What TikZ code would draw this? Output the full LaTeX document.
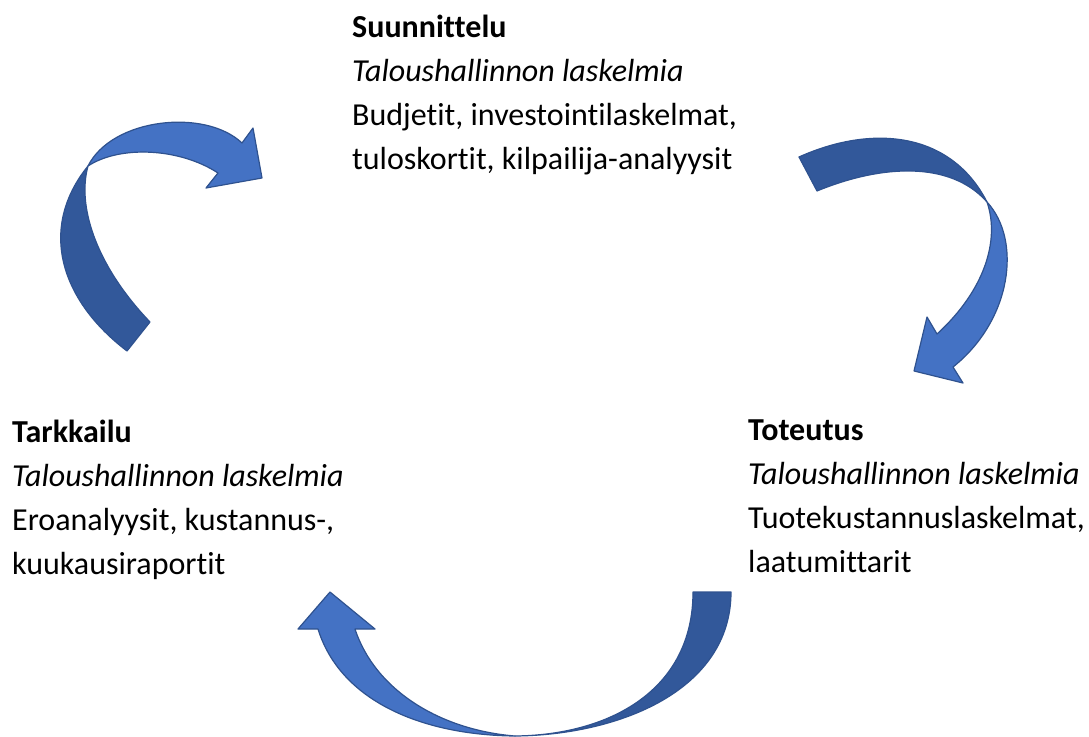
\documentclass[tikz,border=0pt]{standalone}
\usepackage{fontspec}
\setmainfont{Carlito}[Ligatures=NoCommon]
\usepackage{tikz}

\definecolor{facelight}{RGB}{68,114,196}
\definecolor{facedark}{RGB}{50,88,154}
\definecolor{rim}{RGB}{47,82,143}

\tikzset{
  front/.style={fill=facelight, draw=rim, line width=1.2pt, line join=round},
  back/.style={fill=facedark, draw=rim, line width=1.2pt, line join=round},
  stage/.style={anchor=north west, inner sep=0pt, align=left,
    font=\fontsize{32}{44}\selectfont}
}

\begin{document}
\begin{tikzpicture}[x=1pt, y=-1pt]

    \useasboundingbox (0,0) rectangle (1089,736);


    \node[stage] (plan) at (352,15) {\textbf{Suunnittelu}\\ \textit{Taloushallinnon laskelmia}\\ Budjetit, investointilaskelmat,\\ tuloskortit, kilpailija-analyysit};

    \node[stage] (act) at (748,420) {\textbf{Toteutus}\\ \textit{Taloushallinnon laskelmia}\\ Tuotekustannuslaskelmat,\\ laatumittarit};

    \node[stage] (watch) at (12,420) {\textbf{Tarkkailu}\\ \textit{Taloushallinnon laskelmia}\\ Eroanalyysit, kustannus-,\\ kuukausiraportit};


    % upper left
    \draw[back] (127,351) .. controls (60,300) and (38,228) .. (88,166)
      .. controls (76,210) and (100,270) .. (150,322) -- cycle;

    \draw[front] (88,166) .. controls (112,118) and (205,108) .. (242,143)
      -- (253,128) -- (262,178) -- (206,188) -- (218,173)
      .. controls (180,148) and (120,145) .. (88,166) -- cycle;


    % upper right
    \draw[back] (799,157) .. controls (870,125) and (950,130) .. (987,202)
      .. controls (950,160) and (880,165) .. (817,191) -- cycle;

    \draw[front] (987,202) .. controls (1022,240) and (1012,320) .. (953,367)
      -- (963,383) -- (914,371) -- (927,317) -- (937,334)
      .. controls (985,290) and (1000,240) .. (987,202) -- cycle;


    % bottom
    \draw[back] (731,592) .. controls (731,690) and (620,735) .. (515,736)
      .. controls (610,735) and (693,690) .. (693,592) -- cycle;

    \draw[front] (515,736) .. controls (420,735) and (340,700) .. (318,629)
      -- (298,629) -- (330,592) -- (375,629) -- (355,629)
      .. controls (375,690) and (440,730) .. (515,736) -- cycle;

  \end{tikzpicture}
\end{document}
